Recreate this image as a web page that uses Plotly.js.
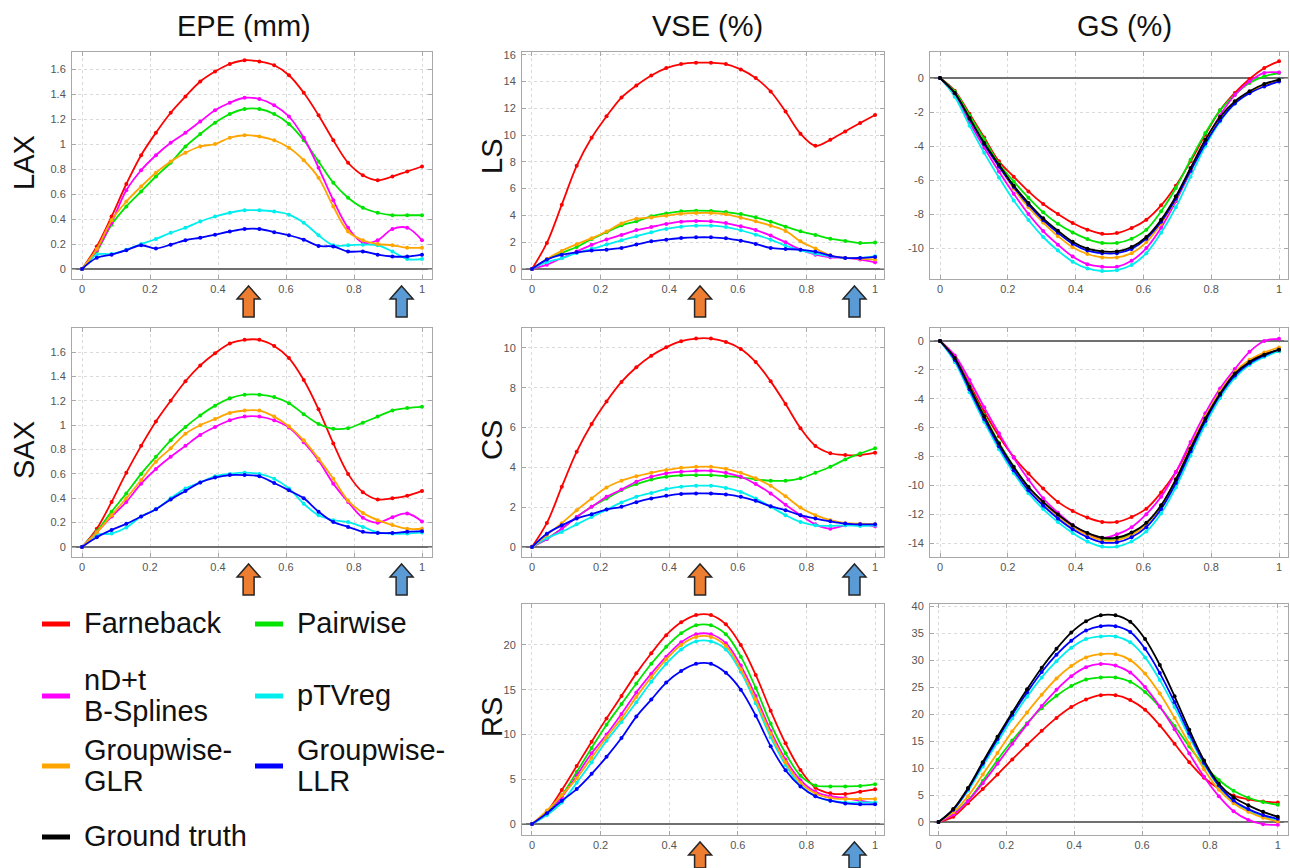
<!DOCTYPE html>
<html><head><meta charset="utf-8">
<script src="https://cdn.plot.ly/plotly-3.0.1.min.js"></script>
<style>html,body{margin:0;padding:0;background:#fff}#chart{width:1290px;height:868px}</style>
</head><body><div id="chart"></div>
<script>
// ---------- DATA ----------
const frames = [0,0.0435,0.087,0.1304,0.1739,0.2174,0.2609,0.3043,0.3478,0.3913,0.4348,0.4783,0.5217,0.5652,0.6087,0.6522,0.6957,0.7391,0.7826,0.8261,0.8696,0.913,0.9565,1];
const methods = ['Farneback','Pairwise','nD+t B-Splines','pTVreg','Groupwise-GLR','Groupwise-LLR','Ground truth'];
const methodColors = ['#ff0000','#00e400','#ff00ff','#00eeee','#ffa500','#0000ff','#000000'];
const legendLabels = [['Farneback'],['Pairwise'],['nD+t','B-Splines'],['pTVreg'],['Groupwise-','GLR'],['Groupwise-','LLR'],['Ground truth']];
const columnTitles = ['EPE (mm)','VSE (%)','GS (%)'];
const rowLabelsEPE = ['LAX','SAX'];
const rowLabelsVSE = ['LS','CS','RS'];
const arrowX = [0.49, 0.94];
const arrowColors = ['#ed7d31','#5b9bd5'];

// EPE LAX
const epeLAX_far = [0,0.18,0.42,0.68,0.91,1.09,1.25,1.38,1.50,1.58,1.64,1.67,1.66,1.63,1.55,1.41,1.23,1.03,0.85,0.75,0.71,0.74,0.78,0.82];
const epeLAX_pair = [0,0.14,0.355,0.50,0.62,0.74,0.85,0.98,1.08,1.17,1.24,1.28,1.28,1.24,1.16,1.03,0.86,0.69,0.57,0.49,0.45,0.43,0.43,0.43];
const epeLAX_bsp = [0,0.15,0.37,0.63,0.79,0.91,1.01,1.09,1.18,1.27,1.33,1.37,1.36,1.31,1.22,1.05,0.81,0.55,0.33,0.21,0.23,0.32,0.33,0.23];
const epeLAX_ptv = [0,0.115,0.12,0.155,0.20,0.24,0.29,0.33,0.38,0.42,0.45,0.47,0.47,0.46,0.435,0.37,0.27,0.19,0.19,0.195,0.19,0.14,0.08,0.08];
const epeLAX_glr = [0,0.16,0.39,0.54,0.66,0.77,0.86,0.93,0.98,1.00,1.05,1.07,1.06,1.03,0.97,0.87,0.73,0.50,0.30,0.23,0.20,0.19,0.17,0.17];
const epeLAX_llr = [0,0.09,0.115,0.15,0.19,0.165,0.195,0.23,0.25,0.275,0.30,0.32,0.32,0.295,0.27,0.235,0.185,0.18,0.14,0.14,0.115,0.10,0.10,0.115];

// VSE LS
const vseLS_far = [0,1.94,4.8,7.7,9.8,11.4,12.8,13.7,14.45,15.0,15.3,15.4,15.4,15.3,14.9,14.25,13.25,11.75,10.1,9.2,9.65,10.27,10.9,11.5];
const vseLS_pair = [0,0.7,1.2,1.64,2.24,2.74,3.26,3.56,3.93,4.15,4.30,4.35,4.33,4.25,4.1,3.86,3.53,3.16,2.81,2.54,2.26,2.09,1.94,1.97];
const vseLS_bsp = [0,0.32,0.82,1.3,1.8,2.2,2.54,2.9,3.13,3.36,3.53,3.58,3.56,3.43,3.18,2.9,2.49,1.99,1.44,1.07,0.87,0.82,0.70,0.50];
const vseLS_ptv = [0,0.5,0.8,1.2,1.5,1.82,2.14,2.44,2.74,2.99,3.16,3.23,3.23,3.13,2.89,2.56,2.19,1.74,1.39,1.14,0.95,0.82,0.82,0.95];
const vseLS_glr = [0,0.75,1.35,1.85,2.3,2.8,3.4,3.75,3.85,3.98,4.13,4.18,4.18,4.08,3.83,3.56,3.23,2.84,2.06,1.52,1.02,0.82,0.77,0.70];
const vseLS_llr = [0,0.7,1.07,1.24,1.37,1.44,1.57,1.82,2.06,2.19,2.31,2.36,2.36,2.29,2.11,1.87,1.57,1.49,1.44,1.29,1.0,0.82,0.82,0.9];

// GS LAX
const gsLAX_far = [0,-0.75,-2.1,-3.5,-4.9,-5.8,-6.67,-7.41,-8.0,-8.53,-8.92,-9.16,-9.12,-8.82,-8.33,-7.49,-6.33,-4.9,-3.33,-1.9,-0.88,-0.06,0.59,0.98];
const gsLAX_pair = [0,-0.8,-2.2,-3.6,-5.04,-6.08,-7.04,-7.9,-8.57,-9.08,-9.47,-9.7,-9.7,-9.45,-8.92,-7.84,-6.47,-4.8,-3.24,-1.9,-0.98,-0.29,0.1,0.29];
const gsLAX_bsp = [0,-1.0,-2.6,-4.1,-5.5,-6.8,-8.0,-9.0,-9.8,-10.5,-10.95,-11.1,-11.1,-10.75,-10.0,-8.8,-7.25,-5.5,-3.75,-2.2,-1.0,-0.2,0.3,0.33];
const gsLAX_ptv = [0,-1.1,-2.8,-4.4,-5.85,-7.2,-8.35,-9.35,-10.15,-10.8,-11.2,-11.35,-11.3,-11.0,-10.3,-9.1,-7.6,-5.8,-4.0,-2.55,-1.5,-0.85,-0.4,-0.1];
const gsLAX_glr = [0,-0.9,-2.4,-3.9,-5.2,-6.5,-7.6,-8.5,-9.3,-9.95,-10.35,-10.55,-10.55,-10.3,-9.65,-8.55,-7.15,-5.45,-3.75,-2.4,-1.45,-0.85,-0.4,-0.15];
const gsLAX_llr = [0,-0.9,-2.4,-3.9,-5.2,-6.4,-7.45,-8.35,-9.1,-9.75,-10.15,-10.3,-10.3,-10.05,-9.45,-8.45,-7.1,-5.45,-3.85,-2.5,-1.5,-0.9,-0.5,-0.2];
const gsLAX_gt = [0,-0.88,-2.35,-3.82,-5.1,-6.33,-7.35,-8.25,-8.98,-9.63,-10.04,-10.2,-10.2,-9.94,-9.35,-8.33,-6.96,-5.29,-3.63,-2.29,-1.37,-0.78,-0.35,-0.1];

// EPE SAX
const epeSAX_far = [0,0.15,0.37,0.61,0.83,1.03,1.20,1.36,1.49,1.59,1.67,1.70,1.70,1.65,1.55,1.37,1.13,0.85,0.60,0.45,0.39,0.40,0.42,0.46];
const epeSAX_pair = [0,0.13,0.29,0.44,0.60,0.74,0.875,0.985,1.08,1.16,1.22,1.25,1.25,1.23,1.18,1.09,1.01,0.97,0.975,1.02,1.07,1.12,1.14,1.15];
const epeSAX_bsp = [0,0.12,0.25,0.37,0.52,0.64,0.74,0.83,0.92,0.985,1.04,1.07,1.07,1.04,0.98,0.86,0.71,0.52,0.37,0.24,0.20,0.245,0.275,0.21];
const epeSAX_ptv = [0,0.1,0.11,0.16,0.25,0.31,0.40,0.48,0.53,0.58,0.60,0.61,0.60,0.56,0.48,0.355,0.26,0.22,0.205,0.165,0.12,0.11,0.11,0.12];
const epeSAX_glr = [0,0.12,0.26,0.40,0.55,0.70,0.81,0.93,1.0,1.05,1.10,1.12,1.12,1.07,0.99,0.875,0.725,0.56,0.38,0.28,0.22,0.18,0.15,0.15];
const epeSAX_llr = [0,0.08,0.14,0.19,0.25,0.31,0.39,0.46,0.53,0.57,0.59,0.59,0.58,0.525,0.465,0.4,0.29,0.205,0.165,0.125,0.115,0.115,0.125,0.13];

// VSE CS
const vseCS_far = [0,1.21,3.03,4.79,6.18,7.31,8.29,9.03,9.61,10.03,10.34,10.47,10.47,10.3,9.95,9.29,8.32,7.18,5.97,5.08,4.71,4.62,4.62,4.74];
const vseCS_pair = [0,0.42,0.92,1.51,2.02,2.44,2.86,3.16,3.39,3.53,3.6,3.61,3.61,3.56,3.5,3.4,3.33,3.33,3.45,3.73,4.03,4.4,4.7,4.96];
const vseCS_bsp = [0,0.4,0.92,1.51,2.02,2.52,2.89,3.28,3.53,3.7,3.78,3.83,3.83,3.73,3.53,3.16,2.69,2.13,1.6,1.14,0.92,1.09,1.14,1.04];
const vseCS_ptv = [0,0.45,0.76,1.14,1.51,1.88,2.24,2.52,2.72,2.91,3.03,3.08,3.08,2.97,2.77,2.44,2.02,1.6,1.26,1.09,1.06,1.09,1.06,1.09];
const vseCS_glr = [0,0.6,1.2,1.85,2.44,2.99,3.33,3.56,3.73,3.87,3.98,4.03,4.03,3.93,3.73,3.45,3.08,2.55,1.98,1.6,1.35,1.2,1.17,1.15];
const vseCS_llr = [0,0.67,1.09,1.43,1.65,1.88,2.02,2.25,2.44,2.57,2.67,2.69,2.69,2.64,2.52,2.32,2.05,1.85,1.6,1.43,1.29,1.18,1.14,1.14];

// GS SAX
const gsSAX_far = [0,-1.15,-3.0,-4.9,-6.6,-8.04,-9.19,-10.23,-11.15,-11.78,-12.24,-12.54,-12.54,-12.2,-11.62,-10.5,-9.08,-7.23,-5.38,-3.65,-2.33,-1.45,-0.88,-0.7];
const gsSAX_pair = [0,-1.15,-3.15,-5.15,-7.05,-8.7,-10.1,-11.15,-12.05,-12.8,-13.35,-13.7,-13.7,-13.35,-12.65,-11.45,-9.65,-7.45,-5.4,-3.65,-2.3,-1.5,-1.0,-0.7];
const gsSAX_bsp = [0,-1.0,-2.7,-4.6,-6.4,-8.1,-9.6,-10.9,-11.9,-12.75,-13.35,-13.65,-13.4,-12.9,-12.0,-10.8,-9.1,-7.0,-5.0,-3.3,-1.95,-0.75,0.0,0.15];
const gsSAX_ptv = [0,-1.45,-3.55,-5.6,-7.5,-9.15,-10.55,-11.65,-12.55,-13.3,-13.9,-14.25,-14.25,-13.9,-13.2,-11.95,-10.15,-7.95,-5.8,-3.95,-2.55,-1.65,-1.1,-0.7];
const gsSAX_glr = [0,-1.2,-3.25,-5.3,-7.2,-8.8,-10.2,-11.25,-12.15,-12.9,-13.45,-13.8,-13.8,-13.45,-12.7,-11.4,-9.55,-7.35,-5.25,-3.5,-2.15,-1.3,-0.8,-0.45];
const gsSAX_llr = [0,-1.3,-3.35,-5.4,-7.3,-8.95,-10.35,-11.4,-12.3,-13.05,-13.6,-13.95,-13.95,-13.6,-12.9,-11.65,-9.85,-7.65,-5.55,-3.75,-2.4,-1.55,-1.0,-0.6];
const gsSAX_gt = [0,-1.18,-3.19,-5.22,-7.11,-8.73,-10.12,-11.15,-12.03,-12.77,-13.3,-13.63,-13.63,-13.28,-12.6,-11.39,-9.6,-7.46,-5.38,-3.65,-2.26,-1.45,-0.95,-0.6];

// VSE RS
const vseRS_far = [0,1.38,3.8,6.48,9.2,11.8,14.3,16.83,19.07,21.1,22.53,23.35,23.35,22.31,20.0,16.65,12.66,9.01,6.03,4.06,3.43,3.35,3.61,3.87];
const vseRS_pair = [0,1.2,3.2,5.8,8.5,11.1,13.4,15.7,17.9,19.8,21.3,22.2,22.2,21.2,18.7,15.2,11.2,7.9,5.4,4.3,4.2,4.2,4.25,4.45];
const vseRS_bsp = [0,1.1,3.0,5.4,7.9,10.0,12.3,14.7,16.8,18.7,20.3,21.2,21.2,20.2,17.7,14.3,10.4,7.2,4.9,3.6,3.1,2.9,2.6,2.3];
const vseRS_ptv = [0,1.0,2.4,4.6,6.9,9.3,11.4,13.6,15.9,17.9,19.5,20.4,20.4,19.5,17.0,13.5,9.7,6.6,4.3,3.1,2.6,2.4,2.4,2.4];
const vseRS_glr = [0,1.5,3.2,5.1,7.4,9.7,11.8,14.2,16.4,18.4,20.0,20.9,20.9,19.9,17.3,13.9,10.1,6.9,4.6,3.4,2.9,2.8,2.8,2.8];
const vseRS_llr = [0,1.2,2.6,3.9,5.6,7.5,9.6,12.0,13.9,15.8,17.1,17.9,17.9,16.9,15.0,12.1,8.7,6.0,4.2,3.1,2.6,2.3,2.2,2.2];

// GS RS
const gsRS_far = [0,1.0,3.5,6.1,8.8,11.6,14.3,16.9,19.3,21.3,22.7,23.5,23.5,22.6,20.8,17.9,14.5,11.1,8.2,6.2,4.9,4.2,3.8,3.6];
const gsRS_pair = [0,1.5,4.0,7.6,11.5,15.1,18.3,21.1,23.4,25.2,26.4,26.8,26.8,26.0,24.1,21.3,17.8,14.0,10.5,7.8,5.8,4.5,3.7,3.2];
const gsRS_bsp = [0,1.4,3.9,7.2,10.8,14.5,18.1,21.5,24.5,27.0,28.7,29.3,29.0,27.7,25.0,21.4,17.2,12.7,8.4,4.8,2.0,0.4,-0.4,-0.5];
const gsRS_ptv = [0,2.2,5.8,10.3,14.8,19.2,23.2,26.8,29.8,32.3,33.9,34.4,34.4,33.3,30.5,26.3,21.3,15.8,10.7,6.6,3.8,2.1,1.0,0.3];
const gsRS_glr = [0,1.8,4.8,8.8,12.8,16.8,20.3,23.6,26.6,28.9,30.5,31.1,31.1,30.0,27.5,23.8,19.3,14.5,9.8,6.0,3.5,1.9,0.8,0.1];
const gsRS_llr = [0,2.3,6.1,10.8,15.4,19.9,24.0,27.8,31.0,33.6,35.5,36.3,36.3,35.2,32.1,27.6,22.2,16.4,11.0,6.8,4.0,2.4,1.3,0.6];
const gsRS_gt = [0,2.4,6.3,11.1,15.8,20.3,24.6,28.6,32.1,35.1,37.2,38.3,38.3,37.1,33.9,29.1,23.3,17.1,11.4,7.1,4.6,3.1,1.9,1.0];

const xTicks = [0,0.2,0.4,0.6,0.8,1];
const yTicksEPE = [0,0.2,0.4,0.6,0.8,1,1.2,1.4,1.6];
const yTicksLS = [0,2,4,6,8,10,12,14,16];
const yTicksGSLAX = [0,-2,-4,-6,-8,-10];
const yTicksCS = [0,2,4,6,8,10];
const yTicksGSSAX = [0,-2,-4,-6,-8,-10,-12,-14];
const yTicksRS = [0,5,10,15,20];
const yTicksGSRS = [0,5,10,15,20,25,30,35,40];

// ---------- LAYOUT ----------
const W = 1290, H = 868;
const FONT = 'Liberation Sans, Arial, sans-serif';
const colPx = [[72,432],[522,884],[930,1288]];
const rowPx = [[52,279],[328,557],[604,835]];
const panels = [
  {col:0,row:0,series:[epeLAX_far,epeLAX_pair,epeLAX_bsp,epeLAX_ptv,epeLAX_glr,epeLAX_llr,null],xr:[-0.0294,1.0294],yr:[-0.08,1.736],yt:yTicksEPE,arrows:true},
  {col:1,row:0,series:[vseLS_far,vseLS_pair,vseLS_bsp,vseLS_ptv,vseLS_glr,vseLS_llr,null],xr:[-0.029,1.026],yr:[-0.75,16.2],yt:yTicksLS,arrows:true},
  {col:2,row:0,series:[gsLAX_far,gsLAX_pair,gsLAX_bsp,gsLAX_ptv,gsLAX_glr,gsLAX_llr,gsLAX_gt],xr:[-0.0295,1.0265],yr:[-11.82,1.53],yt:yTicksGSLAX,arrows:false},
  {col:0,row:1,series:[epeSAX_far,epeSAX_pair,epeSAX_bsp,epeSAX_ptv,epeSAX_glr,epeSAX_llr,null],xr:[-0.0294,1.0294],yr:[-0.082,1.797],yt:yTicksEPE,arrows:true},
  {col:1,row:1,series:[vseCS_far,vseCS_pair,vseCS_bsp,vseCS_ptv,vseCS_glr,vseCS_llr,null],xr:[-0.029,1.026],yr:[-0.5,11.0],yt:yTicksCS,arrows:true},
  {col:2,row:1,series:[gsSAX_far,gsSAX_pair,gsSAX_bsp,gsSAX_ptv,gsSAX_glr,gsSAX_llr,gsSAX_gt],xr:[-0.0295,1.0265],yr:[-14.97,0.9],yt:yTicksGSSAX,arrows:false},
  {col:1,row:2,series:[vseRS_far,vseRS_pair,vseRS_bsp,vseRS_ptv,vseRS_glr,vseRS_llr,null],xr:[-0.029,1.026],yr:[-1.23,24.58],yt:yTicksRS,arrows:true},
  {col:2,row:2,series:[gsRS_far,gsRS_pair,gsRS_bsp,gsRS_ptv,gsRS_glr,gsRS_llr,gsRS_gt],xr:[-0.025,1.03],yr:[-2.4,40.4],yt:yTicksGSRS,arrows:false}
];

const traces = [];
const layout = {
  width: W, height: H, margin:{l:0,r:0,t:0,b:0},
  paper_bgcolor:'#ffffff', plot_bgcolor:'#ffffff',
  showlegend:false, font:{family:FONT, color:'#555', size:11},
  shapes:[], annotations:[]
};
const py = v => 1 - v / H;
const pxx = v => v / W;

panels.forEach((p, k) => {
  const n = k + 1;
  const xa = 'xaxis' + (n === 1 ? '' : n), ya = 'yaxis' + (n === 1 ? '' : n);
  const xid = 'x' + (n === 1 ? '' : n), yid = 'y' + (n === 1 ? '' : n);
  const common = {
    showline:true, linecolor:'#a8a8a8', linewidth:1, mirror:'ticks',
    ticks:'inside', ticklen:4, tickcolor:'#a8a8a8',
    showgrid:true, gridcolor:'#dadada', griddash:'dot', gridwidth:1,
    tickfont:{family:FONT, size:11, color:'#555'}, fixedrange:true
  };
  layout[xa] = Object.assign({}, common, {
    domain:[pxx(colPx[p.col][0]), pxx(colPx[p.col][1])], range:p.xr, anchor:yid,
    tickmode:'array', tickvals:xTicks, ticktext:xTicks.map(String), zeroline:false
  });
  layout[ya] = Object.assign({}, common, {
    domain:[py(rowPx[p.row][1]), py(rowPx[p.row][0])], range:p.yr, anchor:xid,
    tickmode:'array', tickvals:p.yt, ticktext:p.yt.map(String),
    zeroline:true, zerolinecolor:'#707070', zerolinewidth:1.5, ticklabelstandoff:3
  });
  p.series.forEach((ys, m) => {
    if (!ys) return;
    traces.push({
      type:'scatter', mode:'lines+markers', x:frames, y:ys, xaxis:xid, yaxis:yid,
      name:methods[m], line:{color:methodColors[m], width:1.8, shape:'spline', smoothing:1},
      marker:{color:methodColors[m], size:4}, hoverinfo:'skip'
    });
  });
  if (p.arrows) {
    const pxPerUnit = (colPx[p.col][1] - colPx[p.col][0]) / (p.xr[1] - p.xr[0]);
    const tip = rowPx[p.row][1] + 7;
    const hw = 11.5 / pxPerUnit, sw = 5.5 / pxPerUnit;
    arrowX.forEach((ax, a) => {
      const yT = py(tip), yH = py(tip + 13), yE = py(Math.min(tip + 31, H));
      const path = `M ${ax},${yT} L ${ax+hw},${yH} L ${ax+sw},${yH} L ${ax+sw},${yE} L ${ax-sw},${yE} L ${ax-sw},${yH} L ${ax-hw},${yH} Z`;
      layout.shapes.push({type:'path', path, xref:xid, yref:'paper', fillcolor:arrowColors[a],
        line:{color:'#262626', width:1.5}, layer:'above'});
    });
  }
});

const BIG = 29;
// column titles
const titleX = [244, 707, 1124];
columnTitles.forEach((t, i) => layout.annotations.push({
  text:t, x:pxx(titleX[i]), y:py(26), xref:'paper', yref:'paper', showarrow:false,
  xanchor:'center', yanchor:'middle', font:{family:FONT, size:BIG, color:'#111'}
}));
// row labels
const rowLabY = [163, 450, 717];
rowLabelsEPE.forEach((t, i) => layout.annotations.push({
  text:t, x:pxx(24), y:py(rowLabY[i]), xref:'paper', yref:'paper', showarrow:false, textangle:-90,
  xanchor:'center', yanchor:'middle', font:{family:FONT, size:BIG, color:'#111'}
}));
const rowLabY2 = [157, 440, 717];
rowLabelsVSE.forEach((t, i) => layout.annotations.push({
  text:t, x:pxx(492), y:py(rowLabY2[i]), xref:'paper', yref:'paper', showarrow:false, textangle:-90,
  xanchor:'center', yanchor:'middle', font:{family:FONT, size:BIG, color:'#111'}
}));

// legend (drawn manually in the empty bottom-left cell)
const legCols = [{sx:42, tx:82},{sx:255, tx:295}];
const legRowY = [624, 696, 766, 837];
legendLabels.forEach((lines, m) => {
  const c = legCols[m % 2], yc = legRowY[Math.floor(m / 2)];
  layout.shapes.push({type:'line', xref:'paper', yref:'paper', x0:pxx(c.sx), x1:pxx(c.sx+28),
    y0:py(yc), y1:py(yc), line:{color:methodColors[m], width:5}});
  lines.forEach((ln, j) => {
    const off = (j - (lines.length - 1) / 2) * 31;
    layout.annotations.push({text:ln, x:pxx(c.tx), y:py(yc + off - 1), xref:'paper', yref:'paper',
      showarrow:false, xanchor:'left', yanchor:'middle', font:{family:FONT, size:BIG, color:'#111'}});
  });
});

Plotly.newPlot('chart', traces, layout, {staticPlot:true, displayModeBar:false});
</script>
</body></html>
